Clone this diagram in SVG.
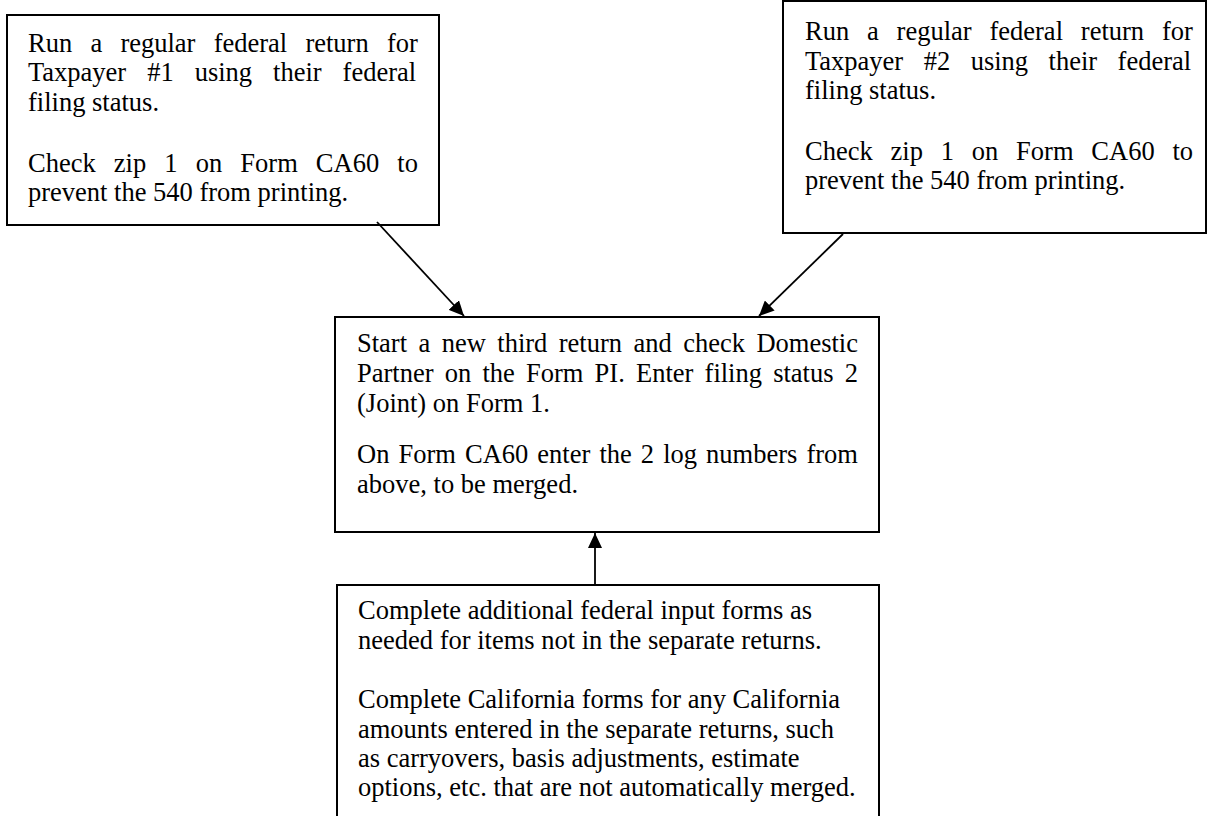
<svg xmlns="http://www.w3.org/2000/svg" width="1207" height="816" viewBox="0 0 1207 816">
<style>
  .box { fill: #ffffff; stroke: #000000; stroke-width: 2; }
  .t { font-family: "Liberation Serif", "Times New Roman", serif; font-size: 26.5px; fill: #000000; }
  .conn { stroke: #000000; stroke-width: 1.8; fill: none; }
</style>
<defs>
  <marker id="arrow" markerUnits="userSpaceOnUse" markerWidth="16" markerHeight="14" refX="15" refY="7" orient="auto">
    <path d="M0,0 L15,7 L0,14 z" fill="#000000"/>
  </marker>
</defs>
<rect width="1207" height="816" fill="#ffffff"/>

<g id="node-taxpayer1">
  <rect class="box" x="7" y="15" width="432" height="210"/>
  <text class="t">
    <tspan x="28" y="52" word-spacing="11.6">Run a regular federal return for</tspan>
    <tspan x="28" y="81" word-spacing="14.35">Taxpayer #1 using their federal</tspan>
    <tspan x="28" y="111">filing status.</tspan>
    <tspan x="28" y="172" word-spacing="11.5">Check zip 1 on Form CA60 to</tspan>
    <tspan x="28" y="201">prevent the 540 from printing.</tspan>
  </text>
</g>

<g id="node-taxpayer2">
  <rect class="box" x="783" y="1" width="423" height="232"/>
  <text class="t">
    <tspan x="805" y="40" word-spacing="11.2">Run a regular federal return for</tspan>
    <tspan x="805" y="70" word-spacing="13.85">Taxpayer #2 using their federal</tspan>
    <tspan x="805" y="99">filing status.</tspan>
    <tspan x="805" y="160" word-spacing="11.2">Check zip 1 on Form CA60 to</tspan>
    <tspan x="805" y="189">prevent the 540 from printing.</tspan>
  </text>
</g>

<g id="node-third-return">
  <rect class="box" x="335" y="317" width="544" height="215"/>
  <text class="t">
    <tspan x="357" y="352" word-spacing="4.81">Start a new third return and check Domestic</tspan>
    <tspan x="357" y="382" word-spacing="4.57">Partner on the Form PI. Enter filing status 2</tspan>
    <tspan x="357" y="412">(Joint) on Form 1.</tspan>
    <tspan x="357" y="463" word-spacing="2.45">On Form CA60 enter the 2 log numbers from</tspan>
    <tspan x="357" y="493">above, to be merged.</tspan>
  </text>
</g>

<g id="node-additional">
  <rect class="box" x="337" y="585" width="542" height="240"/>
  <text class="t">
    <tspan x="358" y="619">Complete additional federal input forms as</tspan>
    <tspan x="358" y="649">needed for items not in the separate returns.</tspan>
    <tspan x="358" y="708">Complete California forms for any California</tspan>
    <tspan x="358" y="738">amounts entered in the separate returns, such</tspan>
    <tspan x="358" y="767">as carryovers, basis adjustments, estimate</tspan>
    <tspan x="358" y="796">options, etc. that are not automatically merged.</tspan>
  </text>
</g>

<g id="connectors">
  <line class="conn" x1="377" y1="222" x2="464" y2="316" marker-end="url(#arrow)"/>
  <line class="conn" x1="843" y1="234" x2="759" y2="316" marker-end="url(#arrow)"/>
  <line class="conn" x1="595" y1="585" x2="595" y2="533" marker-end="url(#arrow)"/>
</g>
</svg>
